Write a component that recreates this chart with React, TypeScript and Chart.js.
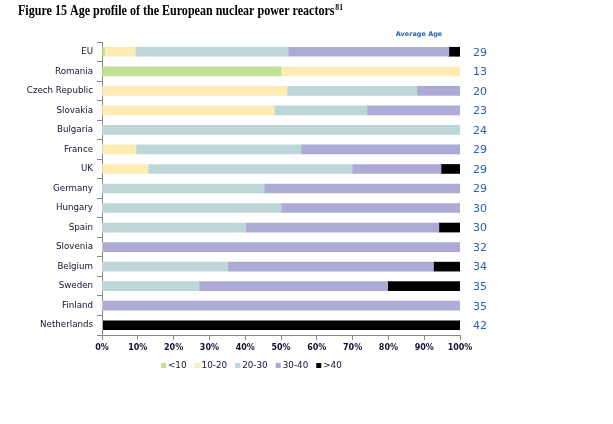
import React, { useEffect, useRef } from "react";
import { Chart, registerables } from "chart.js";

Chart.register(...registerables);

const categories = ["EU", "Romania", "Czech Republic", "Slovakia", "Bulgaria", "France", "UK", "Germany", "Hungary", "Spain", "Slovenia", "Belgium", "Sweden", "Finland", "Netherlands"];
const seriesNames = ["<10", "10-20", "20-30", "30-40", ">40"];
const lt10 = [0.7, 50, 0, 0, 0, 0, 0, 0, 0, 0, 0, 0, 0, 0, 0];
const age10to20 = [8.6, 50, 51.7, 48.1, 0, 9.5, 12.9, 0, 0, 0, 0, 0, 0, 0, 0];
const age20to30 = [42.7, 0, 36.3, 25.9, 100, 46.1, 57, 45.3, 50, 40.2, 0, 35.2, 27.1, 0, 0];
const age30to40 = [44.9, 0, 12, 26, 0, 44.4, 24.8, 54.7, 50, 53.9, 100, 57.4, 52.7, 100, 0];
const gt40 = [3.1, 0, 0, 0, 0, 0, 5.3, 0, 0, 5.9, 0, 7.4, 20.2, 0, 100];
const averageAge = [29, 13, 20, 23, 24, 29, 29, 29, 30, 30, 32, 34, 35, 35, 42];
const xTicks = [0, 10, 20, 30, 40, 50, 60, 70, 80, 90, 100];

const colors = ["#c1e196", "#ffecb5", "#bdd7d9", "#adabd6", "#000000"];
const FONT = "'DejaVu Sans', sans-serif";
const TEXT = "#101035";

const overlay = {
  id: "overlay",
  afterDraw(chart: any) {
    const ctx = chart.ctx;
    const y = chart.scales.y;
    ctx.save();
    // title (horizontally condensed serif bold)
    ctx.fillStyle = "#000";
    ctx.textBaseline = "alphabetic";
    ctx.textAlign = "left";
    ctx.save();
    ctx.translate(18, 15);
    ctx.scale(0.86, 1);
    ctx.font = "bold 14px 'Liberation Serif', serif";
    const title = "Figure 15 Age profile of the European nuclear power reactors";
    ctx.fillText(title, 0, 0);
    const tw = ctx.measureText(title).width;
    ctx.font = "bold 9px 'Liberation Serif', serif";
    ctx.fillText("81", tw + 1, -5);
    ctx.restore();
    // average age header
    ctx.fillStyle = "#2763ad";
    ctx.font = "bold 6.5px " + FONT;
    ctx.textAlign = "center";
    ctx.textBaseline = "middle";
    ctx.fillText("Average Age", 419, 34);
    // average values
    ctx.font = "11px " + FONT;
    averageAge.forEach((v, i) => {
      ctx.fillText(String(v), 480, y.getPixelForValue(i) + 1);
    });
    // legend
    ctx.font = "8.8px " + FONT;
    ctx.textAlign = "left";
    let lx = 161;
    const ly = 365.5;
    chart.data.datasets.forEach((ds: any) => {
      ctx.fillStyle = ds.backgroundColor;
      ctx.fillRect(lx, ly - 2.5, 5, 5);
      ctx.fillStyle = TEXT;
      ctx.fillText(ds.label, lx + 7, ly);
      lx += 7 + ctx.measureText(ds.label).width + 8;
    });
    ctx.restore();
  },
};

export default function App() {
  const ref = useRef<HTMLCanvasElement>(null);
  useEffect(() => {
    const series = [lt10, age10to20, age20to30, age30to40, gt40];
    const chart = new Chart(ref.current!, {
      type: "bar",
      data: {
        labels: categories,
        datasets: series.map((d, i) => ({
          label: seriesNames[i],
          data: d,
          backgroundColor: colors[i],
          borderWidth: 0,
          barThickness: 9,
        })),
      },
      options: {
        indexAxis: "y",
        responsive: false,
        animation: false,
        layout: { padding: { left: 0, right: 153, top: 42, bottom: 64 } },
        plugins: { legend: { display: false }, tooltip: { enabled: false }, title: { display: false } },
        scales: {
          x: {
            type: "linear",
            stacked: true,
            min: 0,
            max: 100,
            afterBuildTicks: (s: any) => {
              s.ticks = xTicks.map((v) => ({ value: v }));
            },
            afterFit: (s: any) => {
              s.height = 25;
            },
            ticks: {
              callback: (v: any) => v + "%",
              font: { family: FONT, size: 8, weight: "bold" },
              color: TEXT,
              padding: 3,
              maxRotation: 0,
            },
            grid: { drawOnChartArea: false, drawTicks: true, tickLength: 5, color: "#888" },
            border: { color: "#888" },
          },
          y: {
            type: "category",
            stacked: true,
            afterFit: (s: any) => {
              s.width = 102;
            },
            ticks: { font: { family: FONT, size: 8.7 }, color: TEXT, padding: 4 },
            grid: { drawOnChartArea: false, drawTicks: true, tickLength: 5, color: "#888", offset: true },
            border: { color: "#888" },
          },
        },
      },
      plugins: [overlay],
    } as any);
    return () => chart.destroy();
  }, []);
  return (
    <div style={{ position: "absolute", left: 0, top: 0, width: 613, height: 424, background: "#fff" }}>
      <canvas ref={ref} width={613} height={424} style={{ display: "block", width: 613, height: 424 }} />
    </div>
  );
}
